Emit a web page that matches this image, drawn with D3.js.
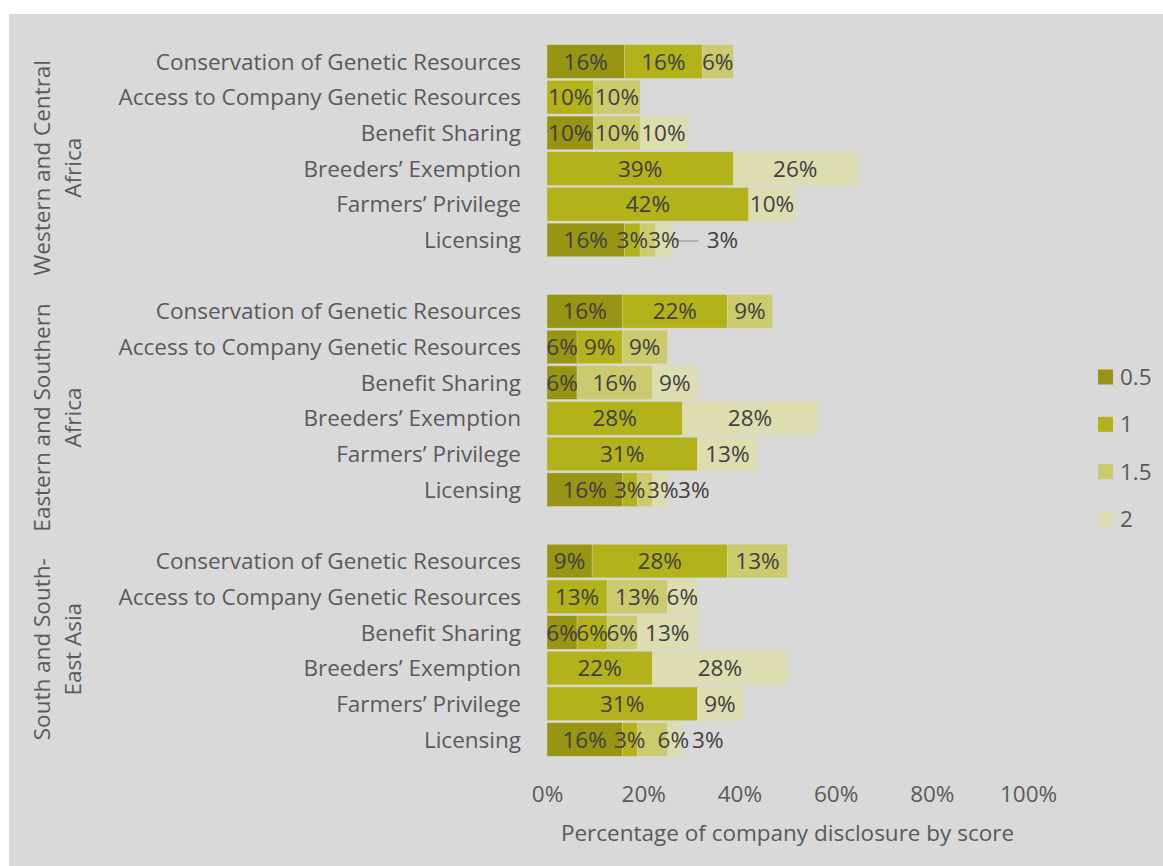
<!DOCTYPE html>
<html>
<head>
<meta charset="utf-8">
<script src="https://cdn.jsdelivr.net/npm/d3@7"></script>
<style>
  html, body { margin: 0; padding: 0; background: #ffffff; }
  svg { display: block; font-family: "Open Sans", "Noto Sans", sans-serif; }
</style>
</head>
<body>
<svg id="chart" width="1163" height="866"></svg>
<script>
// ---------------- DATA ----------------
const groups = ["Western and Central Africa", "Eastern and Southern Africa", "South and South-East Asia"];
const groupLines = [["Western and Central", "Africa"], ["Eastern and Southern", "Africa"], ["South and South-", "East Asia"]];
const categories = [
  "Conservation of Genetic Resources",
  "Access to Company Genetic Resources",
  "Benefit Sharing",
  "Breeders’ Exemption",
  "Farmers’ Privilege",
  "Licensing"
];
const seriesNames = ["0.5", "1", "1.5", "2"];
// values in %, per category: [score 0.5, score 1, score 1.5, score 2]
const westernCentralAfrica = [
  [16.13, 16.13, 6.45, 0],
  [0, 9.68, 9.68, 0],
  [9.68, 0, 9.68, 9.68],
  [0, 38.71, 0, 25.81],
  [0, 41.94, 0, 9.68],
  [16.13, 3.23, 3.23, 3.23]
];
const easternSouthernAfrica = [
  [15.63, 21.88, 9.38, 0],
  [6.25, 9.38, 9.38, 0],
  [6.25, 0, 15.63, 9.38],
  [0, 28.13, 0, 28.13],
  [0, 31.25, 0, 12.5],
  [15.63, 3.13, 3.13, 3.13]
];
const southSouthEastAsia = [
  [9.38, 28.13, 12.5, 0],
  [0, 12.5, 12.5, 6.25],
  [6.25, 6.25, 6.25, 12.5],
  [0, 21.88, 0, 28.13],
  [0, 31.25, 0, 9.38],
  [15.63, 3.13, 6.25, 3.13]
];
const groupValues = [westernCentralAfrica, easternSouthernAfrica, southSouthEastAsia];
const xTicks = [0, 20, 40, 60, 80, 100];
const xTitle = "Percentage of company disclosure by score";

// ---------------- STYLE / LAYOUT ----------------
const colors = ["#989414", "#b3b21a", "#cbca6e", "#dedcb1"];
const labelColor = "#595959";
const valueColor = "#404040";
const fs = 22.5;
// manual label nudges (Licensing rows): [group, row, series, dx]
const labelNudges = [[0, 5, 2, 16], [0, 5, 3, 59], [1, 5, 2, 18], [1, 5, 3, 34], [2, 5, 2, 21], [2, 5, 3, 33]];
const leaderLines = [[0, 5, 3]];
const groupLabelDy = [17, 17, -1];

const svg = d3.select("#chart");
svg.append("rect").attr("x", 9).attr("y", 14).attr("width", 1163 - 9).attr("height", 866 - 14).attr("fill", "#d9d9d9");

// slot keys, with blank separators between groups
const keys = [];
groups.forEach((g, gi) => {
  categories.forEach((c, ci) => keys.push(gi + "|" + ci));
  if (gi < groups.length - 1) keys.push("gap" + gi);
});

const y = d3.scaleBand().domain(keys).range([43.7, 757.3]).paddingInner(0.06).paddingOuter(0.03);
const x = d3.scaleLinear().domain([0, 100]).range([547, 1028]);

// flatten to segments
const segments = [];
groupValues.forEach((rows, gi) => {
  rows.forEach((vals, ci) => {
    let acc = 0;
    vals.forEach((v, si) => {
      segments.push({ gi, ci, si, x0: acc, x1: acc + v, v });
      acc += v;
    });
  });
});

const plot = svg.append("g");
plot.selectAll("rect.seg")
  .data(segments.filter(d => d.v > 0))
  .join("rect")
  .attr("class", "seg")
  .attr("x", d => x(d.x0))
  .attr("width", d => x(d.x1) - x(d.x0))
  .attr("y", d => y(d.gi + "|" + d.ci))
  .attr("height", y.bandwidth())
  .attr("fill", d => colors[d.si])
  .attr("stroke", "#d9d9b0")
  .attr("stroke-width", 0.4);

const nudge = d => {
  const n = labelNudges.find(a => a[0] === d.gi && a[1] === d.ci && a[2] === d.si);
  return n ? n[3] : 0;
};

// leader lines
leaderLines.forEach(([gi, ci, si]) => {
  const d = segments.find(s => s.gi === gi && s.ci === ci && s.si === si);
  const cy = y(gi + "|" + ci) + y.bandwidth() / 2;
  const lx = (x(d.x0) + x(d.x1)) / 2 + nudge(d);
  plot.append("path")
    .attr("d", `M${x(d.x1) + 2},${cy - 2} L${x(d.x1) + 9},${cy + 1} L${lx - 24},${cy + 1}`)
    .attr("fill", "none").attr("stroke", "#a6a6a6").attr("stroke-width", 1.5);
});

plot.selectAll("text.val")
  .data(segments.filter(d => d.v > 0))
  .join("text")
  .attr("class", "val")
  .attr("x", d => (x(d.x0) + x(d.x1)) / 2 + nudge(d))
  .attr("y", d => y(d.gi + "|" + d.ci) + y.bandwidth() / 2)
  .attr("dy", "0.36em")
  .attr("text-anchor", "middle")
  .attr("font-size", fs)
  .attr("fill", valueColor)
  .text(d => Math.round(d.v) + "%");

// category labels
const catLabels = [];
groups.forEach((g, gi) => categories.forEach((c, ci) => catLabels.push({ gi, ci, c })));
svg.append("g").selectAll("text")
  .data(catLabels)
  .join("text")
  .attr("x", 521)
  .attr("y", d => y(d.gi + "|" + d.ci) + y.bandwidth() / 2)
  .attr("dy", "0.36em")
  .attr("text-anchor", "end")
  .attr("font-size", fs)
  .attr("fill", labelColor)
  .text(d => d.c);

// group labels (rotated, two lines)
groups.forEach((g, gi) => {
  const top = y(gi + "|0");
  const bot = y(gi + "|" + (categories.length - 1)) + y.bandwidth();
  const cy = (top + bot) / 2 + groupLabelDy[gi];
  const t = svg.append("text")
    .attr("transform", `translate(57,${cy}) rotate(-90)`)
    .attr("text-anchor", "middle")
    .attr("font-size", fs)
    .attr("fill", labelColor);
  groupLines[gi].forEach((line, li) => {
    t.append("tspan").attr("x", 0).attr("y", li === 0 ? -7 : 24).text(line);
  });
});

// x axis
const xAxis = d3.axisBottom(x).tickValues(xTicks).tickFormat(d => d + "%").tickSize(0).tickPadding(0);
const ax = svg.append("g").attr("transform", "translate(0,786)").call(xAxis);
ax.select(".domain").remove();
ax.selectAll("text").attr("font-size", fs).attr("fill", labelColor).attr("font-family", "Open Sans, Noto Sans, sans-serif").attr("dy", "0.71em");

svg.append("text")
  .attr("x", (x(0) + x(100)) / 2)
  .attr("y", 841)
  .attr("text-anchor", "middle")
  .attr("font-size", fs)
  .attr("fill", labelColor)
  .text(xTitle);

// legend
const legend = svg.append("g");
const legendY = d3.scalePoint().domain(seriesNames).range([377, 519]);
seriesNames.forEach((s, si) => {
  legend.append("rect").attr("x", 1098).attr("y", legendY(s) - 7.5).attr("width", 15).attr("height", 15).attr("fill", colors[si]);
  legend.append("text").attr("x", 1120).attr("y", legendY(s)).attr("dy", "0.36em")
    .attr("font-size", fs).attr("fill", labelColor).text(s);
});
</script>
</body>
</html>
